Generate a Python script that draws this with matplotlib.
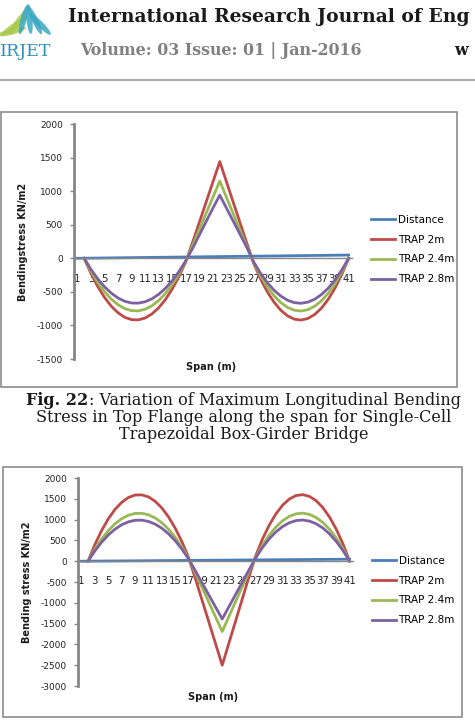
import numpy as np
import matplotlib.pyplot as plt
from matplotlib.patches import Rectangle, Ellipse

plt.rcParams['axes.unicode_minus'] = False
nan = np.nan

# categories along the span (Excel category axis 1..41)
cats = list(range(1, 42))
tick_cats = list(range(1, 42, 2))
series_names = ['Distance', 'TRAP 2m', 'TRAP 2.4m', 'TRAP 2.8m']
colors = ['#4a7ebb', '#be4b48', '#98b954', '#7d60a0']

distance = [0, 1.2, 2.4, 3.6, 4.8, 6, 7.2, 8.4, 9.6, 10.8, 12, 13.2, 14.4, 15.6,
            16.8, 18, 19.2, 20.4, 21.6, 22.8, 24, 25.2, 26.4, 27.6, 28.8, 30,
            31.2, 32.4, 33.6, 34.8, 36, 37.2, 38.4, 39.6, 40.8, 42, 43.2, 44.4,
            45.6, 46.8, 48]

# Fig 22 - top flange
top_2m = [nan, 0, -226, -420, -583, -714, -812, -880, -914, -917, -889, -828, -736,
          -612, -455, -268, -48, 240, 540, 840, 1140, 1440, 1135, 830, 525, 220,
          -75, -305, -497, -653, -774, -858, -907, -920, -896, -837, -742, -610,
          -443, -239, 0]
top_24m = [nan, 0, -193, -359, -498, -609, -693, -750, -780, -783, -758, -707, -628,
           -522, -389, -228, -41, 192, 432, 672, 912, 1150, 905, 660, 415, 170,
           -64, -260, -424, -557, -660, -732, -774, -785, -765, -714, -633, -520,
           -378, -204, 0]
top_28m = [nan, 0, -165, -306, -425, -520, -592, -641, -666, -668, -647, -603, -536,
           -446, -332, -195, -35, 150, 350, 550, 750, 940, 745, 550, 355, 160,
           -55, -222, -362, -476, -563, -625, -661, -670, -653, -610, -540, -444,
           -322, -174, 0]

# second figure - bottom flange
bot_2m = [nan, 0, 394, 731, 1014, 1242, 1413, 1530, 1590, 1595, 1546, 1440, 1280,
          1064, 792, 466, 83, -417, -938, -1458, -1979, -2500, -1968, -1436, -904,
          -372, 131, 530, 864, 1136, 1346, 1493, 1578, 1600, 1558, 1456, 1290,
          1061, 770, 416, 0]
bot_24m = [nan, 0, 284, 528, 732, 896, 1020, 1104, 1148, 1152, 1116, 1040, 924,
           768, 572, 336, 60, -282, -634, -986, -1338, -1690, -1330, -970, -610,
           -250, 95, 382, 624, 820, 971, 1078, 1139, 1155, 1125, 1051, 931, 766,
           556, 300, 0]
bot_28m = [nan, 0, 244, 452, 628, 768, 874, 946, 984, 987, 956, 891, 792, 658,
           490, 288, 51, -232, -521, -811, -1100, -1390, -1094, -798, -502, -206,
           81, 328, 535, 703, 833, 924, 976, 990, 964, 901, 798, 656, 476, 257, 0]

W, H = 475, 725
fig = plt.figure(figsize=(W / 100, H / 100), dpi=100)

# page layer in pixel coords
page = fig.add_axes([0, 0, 1, 1], zorder=0)
page.set_xlim(0, W)
page.set_ylim(H, 0)
page.axis('off')

# journal header - leaf logo
leaf_angles = [165, 145, 125, 105, 85, 65, 45]
leaf_cols = ['#a9c94a', '#a9c94a', '#a9c94a', '#3aa8c4', '#3aa8c4', '#3aa8c4', '#3aa8c4']
for ang, col in zip(leaf_angles, leaf_cols):
    r = np.deg2rad(ang)
    page.add_patch(Ellipse((28 + 17 * np.cos(r), 36 - 17 * np.sin(r)), 30, 6, angle=ang,
                           color=col, alpha=0.85, lw=0))
page.text(0, 51, 'IRJET', color='#2c8fc0', fontsize=12.5, family='DejaVu Serif', va='center')
page.text(68, 17, 'International Research Journal of Eng', fontsize=13.5,
          family='DejaVu Serif', weight='bold', color='#1a1a1a', va='center')
page.text(80, 50, 'Volume: 03 Issue: 01 | Jan-2016', fontsize=11.4, family='DejaVu Serif',
          weight='bold', color='#808080', va='center')
page.text(454, 50, 'w', fontsize=11.4, family='DejaVu Serif', weight='bold',
          color='#1a1a1a', va='center')
page.plot([0, W], [79.5, 79.5], color='#9a9a9a', lw=1.2)

# chart frames
page.add_patch(Rectangle((0.5, 112), 456.5, 275, fill=False, ec='#8c8c8c', lw=1.2))
page.add_patch(Rectangle((3, 467), 459, 250, fill=False, ec='#8c8c8c', lw=1.2))

# caption
cap_kw = dict(fontsize=11.5, family='DejaVu Serif', color='#1a1a1a', va='center')
r = fig.canvas.get_renderer()
t1 = page.text(0, 400, 'Fig. 22', weight='bold', **cap_kw)
t2 = page.text(0, 400, ': Variation of Maximum Longitudinal Bending', **cap_kw)
w1 = t1.get_window_extent(r).width
w2 = t2.get_window_extent(r).width
x0 = 243.5 - (w1 + w2) / 2
t1.set_x(x0)
t2.set_x(x0 + w1)
page.text(243.5, 417, 'Stress in Top Flange along the span for Single-Cell', ha='center', **cap_kw)
page.text(243.5, 434, 'Trapezoidal Box-Girder Bridge', ha='center', **cap_kw)

charts = [
    dict(rect=[74, 124, 352, 359], ylim=(-1500, 2000), data=[distance, top_2m, top_24m, top_28m],
         ylab='Bendingstress KN/m2', ylab_x=23, xlab_y=367, leg=(371, 249.5)),
    dict(rect=[78, 478, 353, 686], ylim=(-3000, 2000), data=[distance, bot_2m, bot_24m, bot_28m],
         ylab='Bending stress KN/m2', ylab_x=27, xlab_y=697, leg=(372, 590.5)),
]

for ch in charts:
    x0, y0, x1, y1 = ch['rect']
    ax = fig.add_axes([x0 / W, 1 - y1 / H, (x1 - x0) / W, (y1 - y0) / H], zorder=1)
    ax.patch.set_alpha(0)
    for name, vals, col in zip(series_names, ch['data'], colors):
        ax.plot(cats, vals, color=col, lw=2, label=name)
    ax.set_xlim(0.5, 41.5)
    ax.set_ylim(*ch['ylim'])
    ax.set_yticks(np.arange(ch['ylim'][0], ch['ylim'][1] + 1, 500))
    ax.set_xticks(tick_cats)
    ax.set_xticklabels([str(c) for c in tick_cats])
    ax.spines['top'].set_visible(False)
    ax.spines['right'].set_visible(False)
    ax.spines['left'].set_color('#868686')
    ax.spines['left'].set_linewidth(2)
    ax.spines['bottom'].set_position(('data', 0))
    ax.spines['bottom'].set_color('#868686')
    ax.spines['bottom'].set_linewidth(1)
    ax.tick_params(axis='y', labelsize=6.5, length=3, width=1, color='#868686', labelcolor='#222222', pad=5)
    ax.tick_params(axis='x', labelsize=7.3, length=0, labelcolor='#222222', pad=11)
    ymid = (y0 + y1) / 2
    page.text(ch['ylab_x'], ymid, ch['ylab'], rotation=90, fontsize=7, weight='bold',
              ha='center', va='center', color='#1a1a1a')
    page.text((x0 + x1) / 2 - 2, ch['xlab_y'], 'Span (m)', fontsize=7, weight='bold',
              ha='center', va='center', color='#1a1a1a')
    ax.legend(loc='center left', bbox_to_anchor=(ch['leg'][0] / W, 1 - ch['leg'][1] / H),
              bbox_transform=fig.transFigure, frameon=False, fontsize=7.5, handlelength=2.3,
              handletextpad=0.25, labelspacing=0.95, borderpad=0, borderaxespad=0)

fig.savefig('out.png', dpi=100)
